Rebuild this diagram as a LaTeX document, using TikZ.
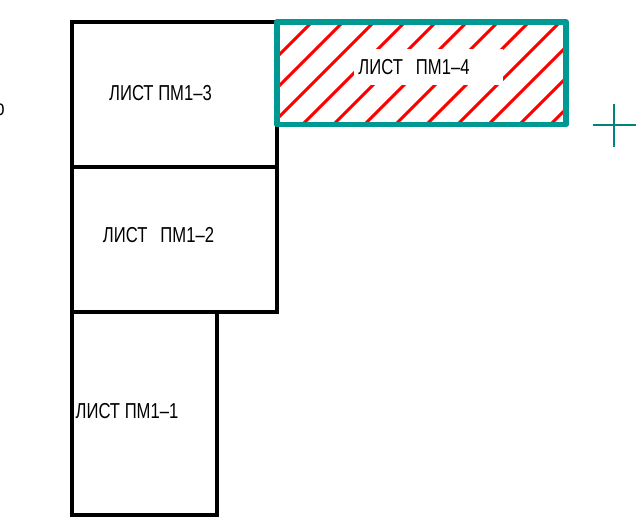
\documentclass[tikz,border=0pt]{standalone}
\usepackage{fontspec}
\newfontfamily\gost[FakeStretch=0.77]{Liberation Sans}
\definecolor{sheetteal}{RGB}{0,152,146}
\definecolor{markteal}{RGB}{0,130,125}

\begin{document}
\begin{tikzpicture}[x=0.02cm, y=-0.02cm,
  sheet/.style = {line width=2pt},
  pick/.style = {draw=sheetteal, line width=3.4pt, line join=round},
  hatch/.style = {red, line width=1.7pt},
  crossmark/.style = {markteal, line width=1.1pt},
  label/.style = {inner sep=0pt, font=\gost\fontsize{12.3}{14}\selectfont}]

\useasboundingbox (0,0) rectangle (637,518);

% sheets
\draw[sheet] (72,22) rectangle (277,167);
\draw[sheet] (72,167) rectangle (277,312);
\draw[sheet] (72,312) rectangle (217,515);

% hatched sheet
\begin{scope}
\clip (277,22) rectangle (566,124.5);
\foreach \c in {303,334,...,706} {\draw[hatch] (\c-130,130) -- (\c-15,15);}
\end{scope}
\fill[white] (354,49) rectangle (503,85);
\draw[pick] (277,22) rectangle (566,124.5);

% texts
\node[label] (pm3) at (160.5,93) {ЛИСТ ПМ1–3};
\node[label] (pm2) at (158.5,235) {ЛИСТ\hspace{0.6em}ПМ1–2};
\node[label] (pm1) at (127,411) {ЛИСТ ПМ1–1};
\node[label] (pm4) at (414,67) {ЛИСТ\hspace{0.6em}ПМ1–4};

% cut-off text at the edge
\begin{scope}
\clip (0,0) rectangle (637,518);
\node[label, anchor=east] (cut) at (5,110) {о};
\end{scope}

% cross mark
\coordinate (m) at (614,125);
\draw[crossmark] (m) ++(-21,0) -- ++(43,0);
\draw[crossmark] (m) ++(0,-21) -- ++(0,43);

\end{tikzpicture}
\end{document}
